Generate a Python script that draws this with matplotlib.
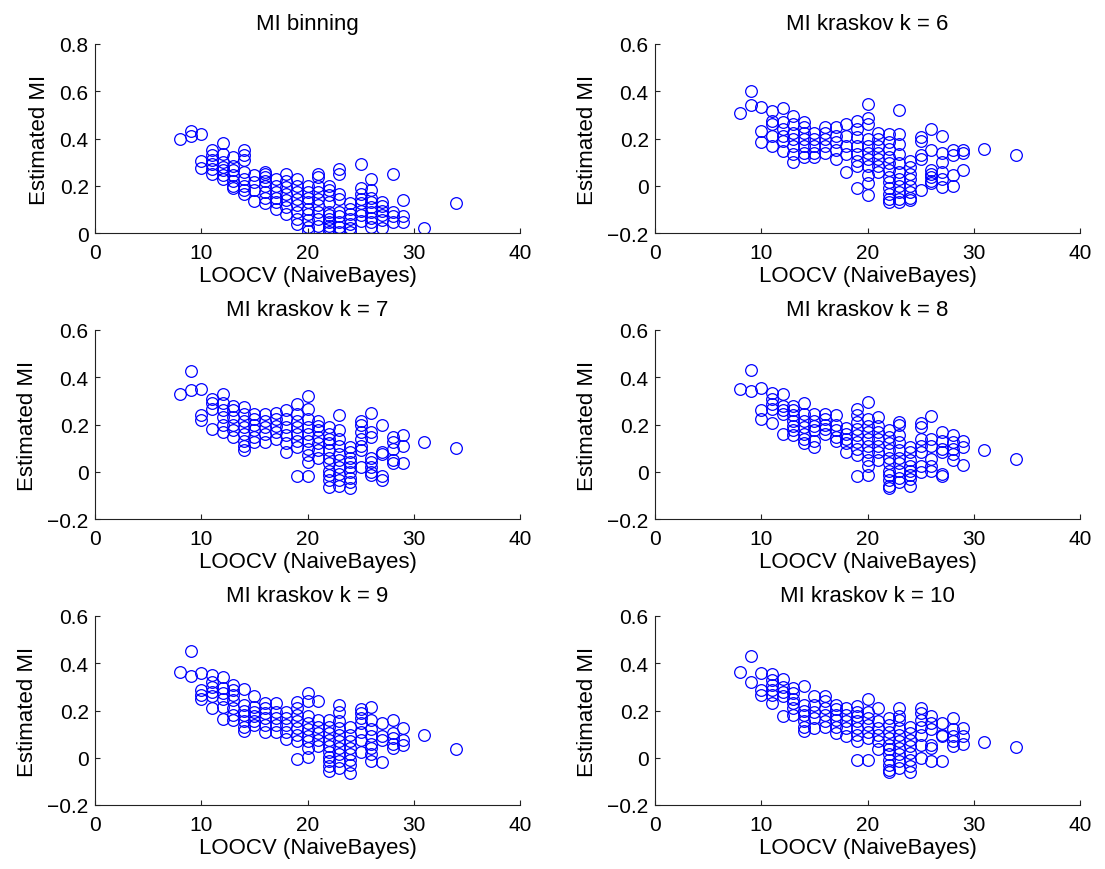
import matplotlib
matplotlib.use('Agg')
import matplotlib.pyplot as plt

plt.rcParams['font.family'] = ['Liberation Sans', 'DejaVu Sans']
plt.rcParams['font.size'] = 15

# LOOCV error levels (same columns in every panel)
x_levels = [8, 9, 10, 11, 12, 13, 14, 15, 16, 17, 18, 19, 20, 21, 22, 23,
            24, 25, 26, 27, 28, 29, 31, 34]

# estimated MI per column, one list of columns per panel
mi_binning = [
    [0.396], [0.43, 0.41], [0.42, 0.305, 0.275],
    [0.35, 0.33, 0.31, 0.29, 0.27, 0.25],
    [0.38, 0.335, 0.30, 0.28, 0.265, 0.245, 0.23],
    [0.32, 0.285, 0.265, 0.245, 0.22, 0.20, 0.19],
    [0.35, 0.33, 0.31, 0.26, 0.23, 0.20, 0.18, 0.165],
    [0.245, 0.215, 0.18, 0.135],
    [0.26, 0.25, 0.235, 0.22, 0.20, 0.175, 0.15, 0.125],
    [0.23, 0.20, 0.175, 0.15, 0.13, 0.10],
    [0.25, 0.22, 0.195, 0.165, 0.14, 0.11, 0.08],
    [0.23, 0.20, 0.175, 0.145, 0.12, 0.09, 0.06, 0.04],
    [0.20, 0.175, 0.15, 0.13, 0.10, 0.08, 0.055, 0.025, 0.01],
    [0.25, 0.235, 0.20, 0.175, 0.145, 0.12, 0.09, 0.06, 0.03],
    [0.20, 0.18, 0.16, 0.13, 0.09, 0.075, 0.06, 0.045, 0.03, 0.02, 0.005],
    [0.27, 0.25, 0.165, 0.145, 0.09, 0.07, 0.045, 0.025, 0.005],
    [0.125, 0.10, 0.08, 0.06, 0.04, 0.02, 0.005],
    [0.29, 0.19, 0.165, 0.145, 0.125, 0.095, 0.075, 0.05],
    [0.23, 0.18, 0.15, 0.13, 0.11, 0.09, 0.065, 0.045, 0.025],
    [0.13, 0.115, 0.095, 0.075, 0.055, 0.02],
    [0.25, 0.09, 0.07, 0.045],
    [0.14, 0.07, 0.045],
    [0.02], [0.125],
]

mi_k6 = [
    [0.31], [0.40, 0.34], [0.335, 0.23, 0.185],
    [0.315, 0.275, 0.26, 0.21, 0.17],
    [0.33, 0.27, 0.24, 0.21, 0.19, 0.145],
    [0.295, 0.26, 0.225, 0.20, 0.17, 0.135, 0.10],
    [0.27, 0.25, 0.225, 0.20, 0.17, 0.14, 0.12],
    [0.225, 0.20, 0.17, 0.14, 0.12],
    [0.25, 0.225, 0.20, 0.17, 0.14],
    [0.25, 0.21, 0.185, 0.15, 0.115],
    [0.26, 0.21, 0.17, 0.135, 0.06],
    [0.275, 0.24, 0.205, 0.17, 0.135, 0.105, 0.085, -0.01],
    [0.345, 0.285, 0.26, 0.20, 0.17, 0.14, 0.115, 0.085, 0.045, 0.01, -0.04],
    [0.225, 0.20, 0.17, 0.14, 0.115, 0.085, 0.06],
    [0.22, 0.185, 0.155, 0.12, 0.095, 0.065, 0.035, 0.015, -0.01, -0.035, -0.055, -0.07],
    [0.32, 0.22, 0.175, 0.135, 0.095, 0.06, 0.03, 0.0, -0.025, -0.055, -0.07],
    [0.105, 0.08, 0.05, 0.03, 0.0, -0.025, -0.05, -0.06],
    [0.205, 0.19, 0.13, 0.115, -0.02],
    [0.24, 0.15, 0.065, 0.05, 0.035, 0.02, 0.01],
    [0.21, 0.14, 0.10, 0.06, 0.03, -0.005],
    [0.15, 0.13, 0.045, 0.0],
    [0.15, 0.14, 0.065],
    [0.155], [0.13],
]

mi_k7 = [
    [0.33], [0.425, 0.345], [0.35, 0.24, 0.22],
    [0.31, 0.29, 0.265, 0.18],
    [0.33, 0.29, 0.26, 0.23, 0.20, 0.17],
    [0.28, 0.26, 0.23, 0.20, 0.175, 0.145],
    [0.275, 0.245, 0.215, 0.19, 0.16, 0.13, 0.11, 0.09],
    [0.245, 0.225, 0.20, 0.175, 0.145, 0.125],
    [0.245, 0.215, 0.19, 0.16, 0.125],
    [0.25, 0.225, 0.195, 0.17, 0.14],
    [0.26, 0.225, 0.19, 0.155, 0.12, 0.085],
    [0.285, 0.245, 0.215, 0.19, 0.16, 0.13, 0.105, -0.02],
    [0.32, 0.265, 0.225, 0.19, 0.16, 0.13, 0.095, 0.07, 0.04, -0.02],
    [0.215, 0.195, 0.175, 0.145, 0.12, 0.09, 0.06],
    [0.19, 0.16, 0.14, 0.12, 0.09, 0.06, 0.035, 0.005, -0.015, -0.035, -0.065],
    [0.24, 0.175, 0.14, 0.11, 0.075, 0.05, 0.02, -0.01, -0.035, -0.06],
    [0.105, 0.085, 0.06, 0.04, 0.02, 0.0, -0.025, -0.045, -0.07],
    [0.215, 0.20, 0.17, 0.14, 0.11, 0.09, 0.02],
    [0.25, 0.17, 0.145, 0.06, 0.04, 0.02, 0.0, -0.015],
    [0.20, 0.085, 0.075, -0.02, -0.035],
    [0.145, 0.125, 0.095, 0.05, 0.035],
    [0.155, 0.11, 0.035],
    [0.125], [0.10],
]

mi_k8 = [
    [0.35], [0.43, 0.34], [0.355, 0.26, 0.225],
    [0.335, 0.31, 0.285, 0.265, 0.205],
    [0.33, 0.28, 0.26, 0.245, 0.16],
    [0.28, 0.26, 0.24, 0.215, 0.195, 0.175, 0.155],
    [0.29, 0.245, 0.215, 0.19, 0.16, 0.14, 0.12],
    [0.245, 0.215, 0.195, 0.175, 0.13, 0.105],
    [0.245, 0.225, 0.20, 0.18, 0.16],
    [0.24, 0.20, 0.175, 0.145, 0.13],
    [0.185, 0.16, 0.14, 0.12, 0.085],
    [0.265, 0.24, 0.21, 0.18, 0.155, 0.125, 0.095, 0.07, -0.02],
    [0.295, 0.225, 0.195, 0.17, 0.14, 0.11, 0.085, 0.05, 0.025, -0.015],
    [0.23, 0.195, 0.17, 0.14, 0.11, 0.085, 0.05],
    [0.175, 0.145, 0.12, 0.09, 0.06, 0.035, 0.005, -0.015, -0.035, -0.06, -0.07],
    [0.21, 0.20, 0.155, 0.125, 0.09, 0.06, 0.035, 0.005, -0.025, -0.045],
    [0.105, 0.085, 0.05, 0.025, 0.005, -0.015, -0.03, -0.06],
    [0.205, 0.19, 0.14, 0.11, 0.085, 0.025, 0.0],
    [0.235, 0.14, 0.11, 0.055, 0.025, 0.005],
    [0.17, 0.13, 0.095, 0.085, -0.01, -0.02],
    [0.155, 0.125, 0.095, 0.075, 0.05],
    [0.13, 0.105, 0.03],
    [0.09], [0.055],
]

mi_k9 = [
    [0.365], [0.45, 0.345], [0.36, 0.285, 0.265, 0.25],
    [0.35, 0.32, 0.30, 0.28, 0.26, 0.21],
    [0.34, 0.295, 0.275, 0.25, 0.215, 0.165],
    [0.31, 0.285, 0.265, 0.245, 0.21, 0.18, 0.16],
    [0.29, 0.225, 0.20, 0.18, 0.155, 0.13, 0.115],
    [0.26, 0.215, 0.195, 0.175, 0.155, 0.14],
    [0.23, 0.21, 0.19, 0.17, 0.14, 0.11],
    [0.23, 0.195, 0.17, 0.14, 0.11],
    [0.195, 0.17, 0.14, 0.11, 0.08],
    [0.235, 0.21, 0.18, 0.155, 0.125, 0.095, 0.07, -0.005],
    [0.275, 0.24, 0.175, 0.145, 0.12, 0.09, 0.07, 0.04, 0.005],
    [0.24, 0.16, 0.13, 0.105, 0.075, 0.05],
    [0.16, 0.13, 0.105, 0.075, 0.05, 0.025, 0.005, -0.015, -0.035, -0.055],
    [0.225, 0.195, 0.155, 0.125, 0.095, 0.07, 0.04, 0.015, -0.015, -0.045],
    [0.13, 0.095, 0.07, 0.04, 0.015, -0.01, -0.03, -0.065],
    [0.205, 0.19, 0.17, 0.145, 0.11, 0.075, 0.025],
    [0.215, 0.16, 0.12, 0.09, 0.06, 0.04, 0.015, -0.015],
    [0.145, 0.09, 0.075, -0.02],
    [0.16, 0.105, 0.085, 0.06, 0.04],
    [0.125, 0.075, 0.055],
    [0.095], [0.035],
]

mi_k10 = [
    [0.365], [0.43, 0.32], [0.36, 0.285, 0.265],
    [0.355, 0.33, 0.31, 0.285, 0.265, 0.23],
    [0.335, 0.30, 0.28, 0.26, 0.175],
    [0.295, 0.275, 0.25, 0.23, 0.21, 0.18],
    [0.305, 0.225, 0.20, 0.18, 0.155, 0.13, 0.115],
    [0.26, 0.225, 0.195, 0.17, 0.125],
    [0.26, 0.24, 0.21, 0.18, 0.155, 0.13],
    [0.225, 0.205, 0.18, 0.16, 0.13, 0.105],
    [0.21, 0.18, 0.155, 0.125, 0.09],
    [0.22, 0.195, 0.175, 0.155, 0.125, 0.095, 0.07, -0.01],
    [0.25, 0.195, 0.17, 0.14, 0.11, 0.085, -0.01],
    [0.21, 0.155, 0.125, 0.095, 0.07, 0.035],
    [0.17, 0.14, 0.11, 0.085, 0.055, 0.035, 0.015, -0.01, -0.03, -0.05, -0.06],
    [0.21, 0.175, 0.16, 0.125, 0.095, 0.07, 0.04, 0.015, -0.015, -0.045],
    [0.13, 0.105, 0.075, 0.05, 0.02, -0.01, -0.035, -0.06],
    [0.21, 0.19, 0.16, 0.13, 0.095, 0.055, 0.0],
    [0.175, 0.145, 0.12, 0.055, 0.04, -0.015],
    [0.145, 0.095, 0.09, -0.015],
    [0.17, 0.12, 0.09, 0.07, 0.05],
    [0.125, 0.09, 0.06],
    [0.065], [0.045],
]

titles = ['MI binning', 'MI kraskov k = 6', 'MI kraskov k = 7',
          'MI kraskov k = 8', 'MI kraskov k = 9', 'MI kraskov k = 10']
panels = [mi_binning, mi_k6, mi_k7, mi_k8, mi_k9, mi_k10]

fig = plt.figure(figsize=(11.05, 8.7), dpi=100)
W, H = 1105.0, 870.0
lefts = [95, 655]
tops = [45, 331, 617]
aw, ah = 425, 189

for i, (cols, title) in enumerate(zip(panels, titles)):
    r, c = divmod(i, 2)
    ax = fig.add_axes([lefts[c] / W, 1 - (tops[r] + ah) / H, aw / W, ah / H])
    xs, ys = [], []
    for xv, col in zip(x_levels, cols):
        xs += [xv] * len(col)
        ys += col
    ax.plot(xs, ys, 'o', markerfacecolor='none', markeredgecolor='b',
            markersize=8.4, markeredgewidth=0.9)
    ax.set_xlim(0, 40)
    ax.set_xticks([0, 10, 20, 30, 40])
    if i == 0:
        ax.set_ylim(0, 0.8)
        ax.set_yticks([0, 0.2, 0.4, 0.6, 0.8])
        ax.set_yticklabels(['0', '0.2', '0.4', '0.6', '0.8'])
    else:
        ax.set_ylim(-0.2, 0.6)
        ax.set_yticks([-0.2, 0, 0.2, 0.4, 0.6])
        ax.set_yticklabels(['\u22120.2', '0', '0.2', '0.4', '0.6'])
    for s in ['top', 'right']:
        ax.spines[s].set_visible(False)
    for s in ['left', 'bottom']:
        ax.spines[s].set_linewidth(0.8)
        ax.spines[s].set_color('#222222')
    ax.tick_params(direction='in', length=3.5, width=0.8, color='#222222')
    ax.tick_params(axis='x', pad=7.5)
    ax.tick_params(axis='y', pad=4.5)
    ax.set_xlabel('LOOCV (NaiveBayes)', fontsize=16, labelpad=2)
    ax.set_ylabel('Estimated MI', fontsize=16, labelpad=7)
    ax.set_title(title, pad=11, fontsize=16)

fig.savefig('out.png', dpi=100)
